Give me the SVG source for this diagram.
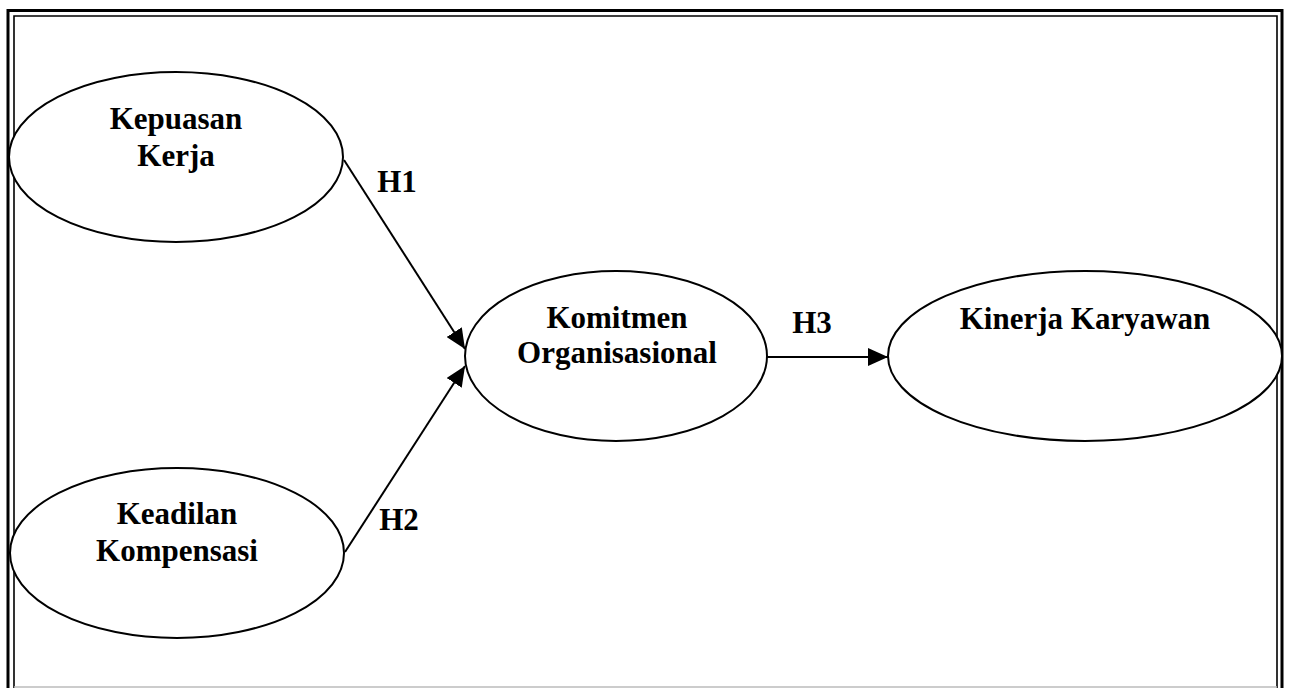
<svg xmlns="http://www.w3.org/2000/svg" width="1290" height="688" viewBox="0 0 1290 688">
<style>
.node ellipse{fill:#fff;stroke:#000;stroke-width:2}
.lbl{font-family:"Liberation Serif","Times New Roman",serif;font-weight:bold;font-size:31px;fill:#000;text-anchor:middle}
.edge{stroke:#000;stroke-width:2;fill:none}
.frame{stroke:#000;fill:none}
</style>
<defs>
<marker id="arr" markerUnits="userSpaceOnUse" markerWidth="20" markerHeight="18" refX="20" refY="9" orient="auto">
<path d="M0,0 L20,9 L0,18 z" fill="#000"/>
</marker>
</defs>
<rect width="1290" height="688" fill="#fff"/>
<g id="frame">
<path class="frame" stroke-width="3" d="M8,688 V10.5 H1282 V688"/>
<path class="frame" stroke-width="1.6" d="M14,688 V16 H1277 V688"/>
<line x1="14" y1="687" x2="1277" y2="687" stroke="#bbb" stroke-width="1.5"/>
</g>
<g id="connectors">
<line class="edge" x1="344" y1="160" x2="465" y2="349" marker-end="url(#arr)"/>
<line class="edge" x1="345" y1="552" x2="465" y2="366" marker-end="url(#arr)"/>
<line class="edge" x1="767" y1="357" x2="888" y2="357" marker-end="url(#arr)"/>
<text class="lbl" x="397" y="192">H1</text>
<text class="lbl" x="399" y="530">H2</text>
<text class="lbl" x="812" y="333">H3</text>
</g>
<g id="kepuasan" class="node">
<ellipse cx="176" cy="157" rx="167" ry="85"/>
<text class="lbl" x="176" y="129">Kepuasan</text>
<text class="lbl" x="176" y="166">Kerja</text>
</g>
<g id="keadilan" class="node">
<ellipse cx="177" cy="553" rx="167" ry="85"/>
<text class="lbl" x="177" y="524">Keadilan</text>
<text class="lbl" x="177" y="561">Kompensasi</text>
</g>
<g id="komitmen" class="node">
<ellipse cx="616" cy="356" rx="151" ry="85"/>
<text class="lbl" x="617" y="328">Komitmen</text>
<text class="lbl" x="617" y="363">Organisasional</text>
</g>
<g id="kinerja" class="node">
<ellipse cx="1085" cy="356" rx="197" ry="85"/>
<text class="lbl" x="1085" y="329">Kinerja Karyawan</text>
</g>
</svg>
